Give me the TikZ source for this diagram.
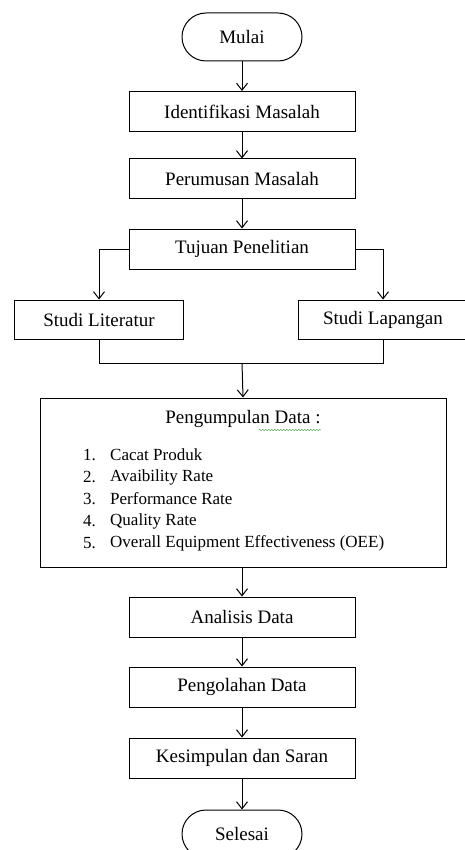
\documentclass[tikz,border=0pt]{standalone}
\usepackage{fontspec}
\setmainfont{Liberation Serif}
\usepackage{tikz}
\usetikzlibrary{arrows.meta,decorations.pathmorphing}

\begin{document}
\begin{tikzpicture}[x=1pt,y=-1pt,
  box/.style={draw,line width=1pt,minimum width=226pt,minimum height=40pt,inner sep=0pt,font=\fontsize{19}{22}\selectfont},
  ends/.style={box,minimum width=120pt,minimum height=48pt,rounded corners=24pt},
  side/.style={box,minimum width=169pt,minimum height=39pt},
  item/.style={anchor=west,inner sep=0pt,font=\fontsize{17}{20}\selectfont},
  arr/.style={-{Straight Barb[length=7pt,width=11pt]},line width=1pt},
  line/.style={line width=1pt}]
\useasboundingbox (0,0) rectangle (464,850);

\node[ends] (mulai) at (242,37) {Mulai};
\node[box] (identifikasi) at (242,111.5) {Identifikasi Masalah};
\node[box] (perumusan) at (242,179) {Perumusan Masalah};
\node[box] (tujuan) at (242,249) {Tujuan Penelitian};
\node[side] (literatur) at (99,319.5) {Studi Literatur};
\node[side] (lapangan) at (383,319.5) {Studi Lapangan};
\coordinate (gabung) at (242,363);

% kotak pengumpulan data
\node[box,minimum width=406pt,minimum height=169pt] (kumpul) at (243,482.5) {};
\node[font=\fontsize{19}{22}\selectfont,inner sep=0pt] (judul) at (243,419) {Pengumpulan Data :};
\draw[green!50!black!60,line width=0.6pt,decorate,decoration={snake,amplitude=0.7pt,segment length=3pt}]
  ([xshift=-62pt,yshift=-11pt]judul.east) -- ([yshift=-11pt]judul.east);
\foreach \i/\txt in {1/Cacat Produk,2/Avaibility Rate,3/Performance Rate,4/Quality Rate,5/Overall Equipment Effectiveness (OEE)}{
  \node[item] (no\i) at (83,433+22*\i) {\i.};
  \node[item] (isi\i) at (110,433+22*\i) {\txt};
}

\node[box] (analisis) at (242,617) {Analisis Data};
\node[box] (pengolahan) at (242,687) {Pengolahan Data};
\node[box] (kesimpulan) at (242,758) {Kesimpulan dan Saran};
\node[ends] (selesai) at (242,834) {Selesai};

\draw[arr] (mulai) -- (identifikasi);
\draw[arr] (identifikasi) -- (perumusan);
\draw[arr] (perumusan) -- (tujuan);
\draw[arr] (tujuan.west) -| (literatur.north);
\draw[arr] (tujuan.east) -| (lapangan.north);
\draw[line] (literatur.south) |- (gabung);
\draw[line] (lapangan.south) |- (gabung);
\draw[arr] (gabung) -- (kumpul.north);
\draw[arr] (kumpul.south -| analisis.north) -- (analisis);
\draw[arr] (analisis) -- (pengolahan);
\draw[arr] (pengolahan) -- (kesimpulan);
\draw[arr] (kesimpulan) -- (selesai);

\end{tikzpicture}
\end{document}
